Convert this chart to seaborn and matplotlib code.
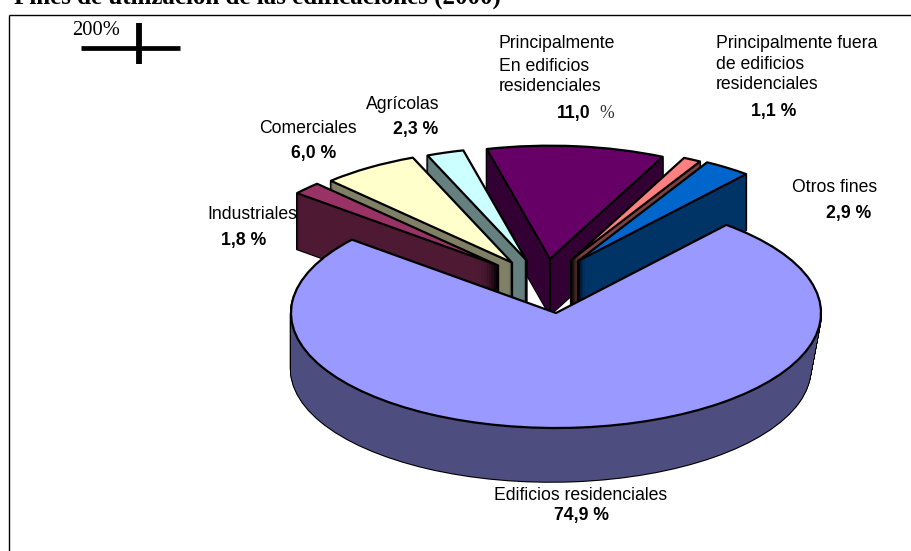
"""Fines de utilizacion de las edificaciones: exploded pie with fake 3D depth."""
import matplotlib
matplotlib.use("Agg")
import matplotlib.pyplot as plt
import seaborn as sns

sns.set_theme(style="white")
plt.rcParams["font.family"] = ["Liberation Sans", "DejaVu Sans"]

# values, counter-clockwise from the right edge of the gap
categories = ["Otros fines", "Principalmente fuera", "Principalmente en",
              "Agrícolas", "Comerciales", "Industriales", "Edificios residenciales"]
shares = [2.9, 1.1, 11.0, 2.3, 6.0, 1.8, 74.9]

top_colors = sns.color_palette(["#0066CC", "#FF8080", "#660066", "#CCFFFF",
                                "#FFFFCC", "#993366", "#9999FF"])
side_colors = sns.color_palette(["#003366", "#804040", "#330033", "#668080",
                                 "#808066", "#4D1933", "#4D4D80"])
# back to front
draw_rank = [5, 4, 0, 1, 2, 3, 6]

W, H = 912, 551
CX, CY = 556, 313     # centre of the pie in pixels
RX, RY = 265, 115     # radius of the pie in pixels
DEPTH = 56            # thickness in pixels
START = 50
BIG = 6


def lift(i, wedge):
    """Offset of a pulled-out slice; the big one stays put."""
    if i == BIG:
        return 0.0, 0.0
    mid = (wedge.theta1 + wedge.theta2) / 2
    return 0.0037 * (78 - mid), 0.47 - 0.00002 * (mid - 84) ** 2


def draw_layer(ax, colors, drop=0.0, edge="none", lw=0.0, z=0):
    wedges, _ = ax.pie(shares, colors=colors, startangle=START, radius=1.0,
                       center=(0, -drop),
                       wedgeprops={"edgecolor": edge, "linewidth": lw, "joinstyle": "round"})
    for i, w in enumerate(wedges):
        dx, dy = lift(i, w)
        t = drop / (DEPTH / RY)
        if i == BIG:
            # slight perspective on the rim of the big slice
            w.set_radius(1.0 - 0.02 * t)
            dx -= 0.02 * t
        else:
            w.set_radius(0.985)
        w.set_center((dx, dy - drop))
        w.set_zorder(draw_rank[i] * 1000 + z)
    return wedges


fig = plt.figure(figsize=(W / 100, H / 100), dpi=100, facecolor="white")
ax = fig.add_axes([0, 0, 1, 1])

n_layers = DEPTH
drops = [k * (DEPTH / RY) / n_layers for k in range(n_layers, 0, -1)]

# black silhouette first, then the side colour on top leaves only the outline
for d in drops:
    draw_layer(ax, side_colors, drop=d, edge="black", lw=1.6, z=1)
for j, d in enumerate(drops):
    draw_layer(ax, side_colors, drop=d, z=2 + j)
top = draw_layer(ax, top_colors, edge="black", lw=1.6, z=900)

# ridge lines where the two radial faces of a slice meet
for i, w in enumerate(top):
    if i == BIG:
        continue
    x0, y0 = w.center
    ax.plot([x0, x0], [y0, y0 - DEPTH / RY], color="black", lw=1.6,
            zorder=draw_rank[i] * 1000 + 800, solid_capstyle="butt")

ax.set_aspect("auto")
ax.set_xlim(-CX / RX, (W - CX) / RX)
ax.set_ylim(-(H - CY) / RY, CY / RY)
ax.axis("off")


def px_text(x, y, s, **kw):
    fig.text(x / W, 1 - y / H, s, **kw)


def px_line(x0, y0, x1, y1, lw, color="black"):
    fig.add_artist(plt.Line2D([x0 / W, x1 / W], [1 - y0 / H, 1 - y1 / H],
                              color=color, lw=lw, solid_capstyle="butt"))


# chart frame (open at right and bottom edge of the crop)
px_line(9, 15, W, 15, 1.0)
px_line(9, 15, 9, H, 1.0)

SERIF = ["Liberation Serif", "DejaVu Serif"]

# title, cut off by the top of the picture
px_text(14, 4, "Fines de utilización de las edificaciones (2000)", fontsize=18,
        fontweight="bold", family=SERIF, color="black", va="baseline", ha="left")

# stray marker in the corner
px_text(72, 35, "200%", fontsize=14.8, family=SERIF, color="black", va="baseline", ha="left")
px_line(81, 48, 180, 48, 3.4)
px_line(139, 23, 139, 64, 4.2)

FS = 12.7
labels = [
    (499, 48, "Principalmente"),
    (499, 71, "En edificios"),
    (499, 91, "residenciales"),
    (716, 48, "Principalmente fuera"),
    (716, 69, "de edificios"),
    (716, 89, "residenciales"),
    (792, 192, "Otros fines"),
    (366, 109, "Agrícolas"),
    (259, 133, "Comerciales"),
    (207, 219, "Industriales"),
    (494, 500, "Edificios residenciales"),
]
values = [
    (557, 118, "11,0"),
    (751, 116, "1,1 %"),
    (826, 218, "2,9 %"),
    (393, 134, "2,3 %"),
    (291, 158, "6,0 %"),
    (221, 245, "1,8 %"),
    (554, 520, "74,9 %"),
]
for x, y, s in labels:
    px_text(x, y, s, fontsize=FS, color="black", ha="left", va="baseline")
for x, y, s in values:
    px_text(x, y, s, fontsize=FS, fontweight="bold", color="black", ha="left", va="baseline")
px_text(599, 118, "%", fontsize=FS, color="#333333", ha="left", va="baseline", family=SERIF)

fig.savefig("out.png", dpi=100, facecolor="white")
